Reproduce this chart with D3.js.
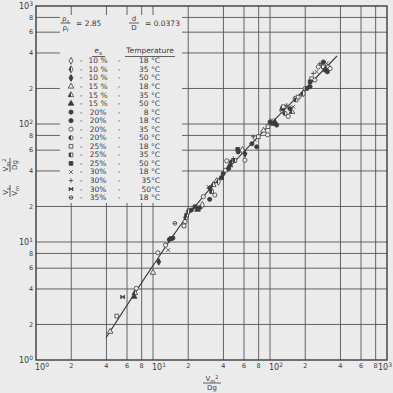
<!DOCTYPE html>
<html>
<head>
<meta charset="utf-8">
<script src="https://cdn.jsdelivr.net/npm/d3@7/dist/d3.min.js"></script>
<style>
  html, body { margin: 0; padding: 0; background: #ebebeb; }
  svg { display: block; font-family: "DejaVu Sans", sans-serif; }
</style>
</head>
<body>
<div id="graph"></div>
<script>
// ---- data (x = Vm^2/Dg, y = (Vs/Vm)/(Vm^2/Dg)) ----
var legendConc = ["10 %","10 %","10 %","15 %","15 %","15 %","20%","20%","20%","20%","25%","25%","25%","30%","30%","30%","35%"];
var legendTemp = ["18 °C","35 °C","50 °C","18 °C","35 °C","50 °C","8 °C","18 °C","35 °C","50 °C","18 °C","35 °C","50 °C","18 °C","35°C","50°C","18 °C"];

var pointX = [4.3, 4.9, 5.5, 6.9, 7.0, 7.2, 10.0, 11.2, 11.0, 12.8, 13.5, 13.8, 14.3, 14.8, 15.4,
              18.4, 18.8, 19.1, 19.4, 20.0, 21.2, 22.0, 22.9, 24.0, 25.0, 26.4, 26.9, 30.5, 33.8,
              29.7, 30.7, 32.7, 31.7, 35, 36.2, 38.6, 39.8, 41.6, 44.3, 42.7, 47.0, 45.5, 48.6, 50.0,
              53.5, 53.0, 58, 61.1, 61.1, 70.0, 74.1, 77.0, 79.5, 71.9, 88, 95.5, 100, 106, 114,
              96, 103, 110, 126, 128, 130, 139, 134, 143, 154, 148, 158, 164, 167, 174, 186, 193,
              200, 207, 220, 227, 220, 242, 234, 250, 259, 277, 286, 295, 305, 315, 326, 305, 267,
              286, 309];
var pointY = [1.74, 2.36, 3.42, 3.44, 3.7, 4.05, 5.5, 6.8, 8.1, 9.4, 8.55, 10.5, 10.7, 10.8, 14.4,
              13.7, 14.9, 16.1, 16.9, 18.2, 18.6, 19.2, 19.9, 18.8, 19.5, 20.6, 24.2, 23.0, 25.0,
              29.4, 28.5, 30.5, 26.7, 33, 32.4, 35.0, 38.0, 40.6, 41.9, 48.7, 47.9, 44.8, 51.0, 49.0,
              58.0, 61.0, 60, 49.4, 56.0, 68.0, 72.9, 64.0, 78.0, 78.0, 88, 81.0, 104, 101, 98,
              95, 108, 104, 131, 135, 140, 144, 123, 116, 127, 135, 140, 165, 160, 169, 176, 182,
              200, 200, 207, 242, 228, 236, 268, 277, 305, 315, 305, 287, 295, 305, 295, 325, 325,
              335, 277];
var pointCat = [3, 10, 15, 5, 4, 8, 3, 2, 8, 8, 13, 7, 12, 6, 16,
                10, 8, 9, 11, 1, 7, 14, 12, 5, 6, 0, 8, 6, 8,
                13, 7, 4, 11, 3, 1, 12, 7, 10, 6, 8, 9, 5, 14, 11,
                6, 12, 0, 8, 2, 7, 13, 6, 10, 14, 3, 8, 7, 12, 6,
                10, 13, 5, 8, 12, 10, 14, 9, 8, 4, 6, 13, 8, 11, 10, 14, 1,
                8, 7, 6, 10, 12, 8, 14, 13, 8, 14, 10, 6, 12, 8, 8, 13, 14,
                7, 6];

// fitted curve through the data
var fitX = [3.97, 10.0, 19.1, 41.3, 100, 199, 374];
var fitY = [1.54, 6.3, 16.0, 39.2, 99, 198, 377];

var majorTicks = [1, 10, 100, 1000];
var minorSteps = [2, 4, 6, 8];

var graphWidth = 393;
var graphHeight = 393;
var margin = {top: 6, right: 6, bottom: 33, left: 36},
    width = graphWidth - margin.left - margin.right,
    height = graphHeight - margin.top - margin.bottom;

var ink = "#3c3c3c";
var gridInk = "#555";
var bg = "#ebebeb";

var xScale = d3.scaleLog().domain([1, 1000]).range([margin.left, margin.left + width]);
var yScale = d3.scaleLog().domain([1, 1000]).range([margin.top + height, margin.top]);

var gridVals = [];
[1, 10, 100].forEach(function(d) {
  minorSteps.forEach(function(m) { gridVals.push(d * m); });
  if (d > 1) gridVals.push(d);
});

var svg = d3.select("#graph")
  .append("svg")
  .attr("width", graphWidth)
  .attr("height", graphHeight);

svg.append("rect").attr("width", graphWidth).attr("height", graphHeight).attr("fill", bg);

// half fill for the "35 deg" style markers
var defs = svg.append("defs");
var grad = defs.append("linearGradient").attr("id", "half").attr("x1", 0).attr("x2", 1).attr("y1", 0).attr("y2", 0);
grad.append("stop").attr("offset", "50%").attr("stop-color", ink);
grad.append("stop").attr("offset", "50%").attr("stop-color", bg);

// **** grid ****
var grid = svg.append("g").attr("stroke", gridInk).attr("stroke-width", 0.9);
grid.selectAll("line.v").data(gridVals).enter().append("line")
  .attr("x1", function(d) { return xScale(d); })
  .attr("x2", function(d) { return xScale(d); })
  .attr("y1", yScale(1)).attr("y2", yScale(1000));
grid.selectAll("line.h").data(gridVals).enter().append("line")
  .attr("y1", function(d) { return yScale(d); })
  .attr("y2", function(d) { return yScale(d); })
  .attr("x1", xScale(1)).attr("x2", xScale(1000));

// legend panel hides the grid behind it
svg.append("rect")
  .attr("x", 60).attr("y", 15).attr("width", 122).attr("height", 188)
  .attr("fill", bg);

// frame
svg.append("rect")
  .attr("x", xScale(1)).attr("y", yScale(1000))
  .attr("width", width).attr("height", height)
  .attr("fill", "none").attr("stroke", ink).attr("stroke-width", 1.4);

// **** tick labels ****
var labels = svg.append("g").attr("fill", ink);

function powerLabel(g, exp, x, y, anchor) {
  var t = g.append("text").attr("x", x).attr("y", y)
    .attr("text-anchor", anchor).attr("font-size", 8);
  t.append("tspan").text("10");
  t.append("tspan").attr("dy", -3.5).attr("font-size", 6).text(exp);
  return t;
}

majorTicks.forEach(function(d, i) {
  powerLabel(labels, i, 33, yScale(d) + 3, "end");
  if (i < 3) powerLabel(labels, i, xScale(d) - 1, 370, "start");
  else powerLabel(labels, i, 392, 370, "end");
});

[1, 10, 100].forEach(function(d) {
  minorSteps.forEach(function(m) {
    labels.append("text")
      .attr("x", 31).attr("y", yScale(d * m) + 2.3)
      .attr("text-anchor", "middle").attr("font-size", 6.5)
      .text(m);
    labels.append("text")
      .attr("x", xScale(d * m)).attr("y", 368)
      .attr("text-anchor", "middle").attr("font-size", 6.5)
      .text(m);
  });
});

// fraction helper: numerator over denominator, centred on cx
function fraction(g, cx, cy, num, den, halfW) {
  g.append("text").attr("x", cx).attr("y", cy - 1.6).attr("text-anchor", "middle")
    .attr("font-size", 7).attr("fill", ink).html(num);
  g.append("line").attr("x1", cx - halfW).attr("x2", cx + halfW)
    .attr("y1", cy).attr("y2", cy).attr("stroke", ink).attr("stroke-width", 0.8);
  g.append("text").attr("x", cx).attr("y", cy + 7).attr("text-anchor", "middle")
    .attr("font-size", 7).attr("fill", ink).html(den);
}

// x axis title
fraction(svg.append("g"), 212, 383, 'V<tspan font-size="5" dy="1.5">m</tspan><tspan font-size="5" dy="-4">2</tspan>', "Dg", 9);

// y axis title
var yTitle = svg.append("g").attr("transform", "translate(10,178) rotate(-90)");
fraction(yTitle, -13, 0, 'V<tspan font-size="5" dy="1.5">s</tspan>', 'V<tspan font-size="5" dy="1.5">m</tspan>', 6);
fraction(yTitle, 13, 0, 'V<tspan font-size="5" dy="1.5">m</tspan><tspan font-size="5" dy="-4">2</tspan>', "Dg", 7);

// **** legend ****
var legend = svg.append("g");
fraction(legend, 65.5, 23, 'ρ<tspan font-size="5" dy="1.5">s</tspan>', 'ρ<tspan font-size="5" dy="1.5">f</tspan>', 5);
legend.append("text").attr("x", 76).attr("y", 26).attr("font-size", 7.5).attr("fill", ink).text("= 2.85");
fraction(legend, 134, 23, "d", "D", 5);
legend.append("text").attr("x", 145).attr("y", 26).attr("font-size", 7.5).attr("fill", ink).text("= 0.0373");

legend.append("text").attr("x", 98).attr("y", 53).attr("text-anchor", "middle")
  .attr("font-size", 7.5).attr("fill", ink)
  .html('e<tspan font-size="5.5" dy="1.5">s</tspan>');
legend.append("line").attr("x1", 92).attr("x2", 105).attr("y1", 56.5).attr("y2", 56.5)
  .attr("stroke", ink).attr("stroke-width", 0.8);
legend.append("text").attr("x", 150).attr("y", 53).attr("text-anchor", "middle")
  .attr("font-size", 7.5).attr("fill", ink).text("Temperature");
legend.append("line").attr("x1", 125).attr("x2", 175).attr("y1", 56.5).attr("y2", 56.5)
  .attr("stroke", ink).attr("stroke-width", 0.8);

// **** markers ****
function drawMarker(g, cat, x, y, s) {
  var r = Math.sqrt(s) / 2;
  var type = [d3.symbolDiamond, d3.symbolDiamond, d3.symbolDiamond,
              d3.symbolTriangle, d3.symbolTriangle, d3.symbolTriangle,
              d3.symbolCircle, d3.symbolCircle, d3.symbolCircle, d3.symbolCircle,
              d3.symbolSquare, d3.symbolSquare, d3.symbolSquare][cat];
  var fills = ["none", "url(#half)", ink, "none", "url(#half)", ink,
               ink, ink, "none", "url(#half)", "none", "url(#half)", ink];
  var m = g.append("g").attr("transform", "translate(" + x + "," + y + ")")
    .attr("stroke", ink).attr("stroke-width", 0.8);
  if (cat < 13) {
    m.append("path").attr("d", d3.symbol().type(type).size(s)())
      .attr("fill", fills[cat] === "none" ? bg : fills[cat]);
  } else if (cat === 13) {
    m.append("path").attr("d", "M" + (-r) + "," + (-r) + "L" + r + "," + r + "M" + (-r) + "," + r + "L" + r + "," + (-r)).attr("fill", "none");
  } else if (cat === 14) {
    m.append("path").attr("d", "M" + (-r * 1.2) + ",0L" + (r * 1.2) + ",0M0," + (-r * 1.2) + "L0," + (r * 1.2)).attr("fill", "none");
  } else if (cat === 15) {
    m.append("path").attr("d", "M" + (-r) + "," + (-r) + "L0,0L" + r + "," + (-r) + "L" + r + "," + r + "L0,0L" + (-r) + "," + r + "Z").attr("fill", ink);
  } else {
    m.append("circle").attr("r", r).attr("fill", bg);
    m.append("line").attr("x1", -r).attr("x2", r).attr("y1", 0).attr("y2", 0);
  }
}

legendConc.forEach(function(c, i) {
  var yy = 63.3 + i * 8.55;
  drawMarker(legend, i, 71, yy - 2.5, 14);
  legend.append("text").attr("x", 81).attr("y", yy).attr("text-anchor", "middle")
    .attr("font-size", 7.5).attr("fill", ink).text("-");
  legend.append("text").attr("x", 98).attr("y", yy).attr("text-anchor", "middle")
    .attr("font-size", 7.5).attr("fill", ink).text(c);
  legend.append("text").attr("x", 119).attr("y", yy).attr("text-anchor", "middle")
    .attr("font-size", 7.5).attr("fill", ink).text("-");
  legend.append("text").attr("x", 160).attr("y", yy).attr("text-anchor", "end")
    .attr("font-size", 7.5).attr("fill", ink).text(legendTemp[i]);
});

// **** fitted curve ****
var fitLine = d3.line()
  .x(function(d) { return xScale(d[0]); })
  .y(function(d) { return yScale(d[1]); })
  .curve(d3.curveMonotoneX);

svg.append("path")
  .datum(d3.zip(fitX, fitY))
  .attr("d", fitLine)
  .attr("fill", "none")
  .attr("stroke", ink)
  .attr("stroke-width", 1.1);

// **** data points ****
var pts = svg.append("g");
pointX.forEach(function(d, i) {
  drawMarker(pts, pointCat[i], xScale(d), yScale(pointY[i]), 14);
});
</script>
</body>
</html>
